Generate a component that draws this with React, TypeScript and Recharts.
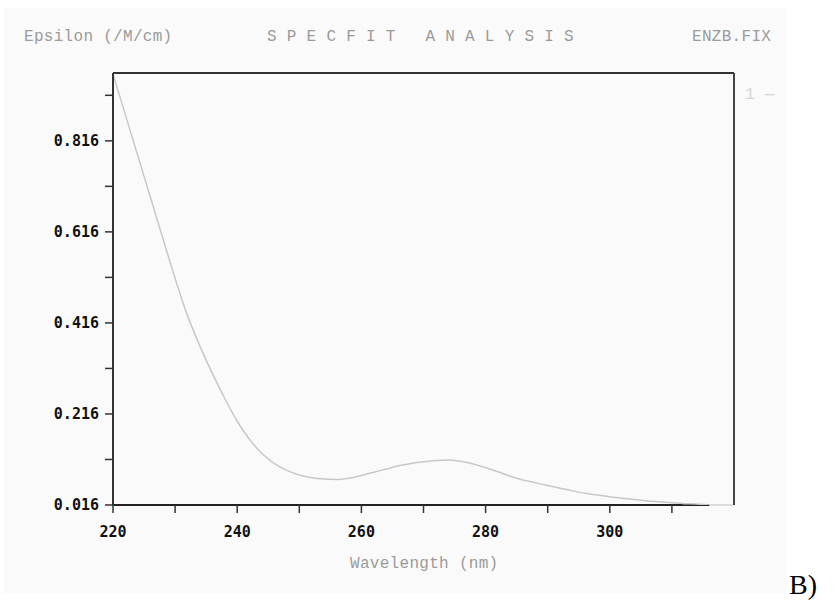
import React from 'react';
import { LineChart, Line, XAxis, YAxis, ReferenceLine } from 'recharts';

const wavelengths = [220, 222, 224, 226, 228, 230, 232, 234, 236, 238, 240, 242, 244, 246, 248, 250, 252, 254, 256, 258, 260, 262, 264, 266, 268, 270, 272, 274, 276, 278, 280, 282, 284, 286, 288, 290, 292, 294, 296, 298, 300, 302, 304, 306, 308, 310, 312, 314, 316];
const epsilon = [0.963, 0.873, 0.783, 0.693, 0.603, 0.514, 0.432, 0.365, 0.305, 0.25, 0.2, 0.16, 0.129, 0.107, 0.092, 0.082, 0.076, 0.073, 0.072, 0.075, 0.081, 0.088, 0.095, 0.102, 0.107, 0.111, 0.114, 0.115, 0.112, 0.106, 0.098, 0.089, 0.079, 0.071, 0.065, 0.059, 0.053, 0.047, 0.042, 0.038, 0.034, 0.031, 0.028, 0.025, 0.023, 0.021, 0.019, 0.018, 0.016];

const xTicks = [220, 230, 240, 250, 260, 270, 280, 290, 300, 310];
const xTickLabels = ['220', '', '240', '', '260', '', '280', '', '300', ''];
const yTicks = [0.016, 0.116, 0.216, 0.316, 0.416, 0.516, 0.616, 0.716, 0.816, 0.916];
const yTickLabels = ['0.016', '', '0.216', '', '0.416', '', '0.616', '', '0.816', ''];
const xDomain = [220, 320];
const yDomain = [0.016, 0.965];

const data = wavelengths.map((w, i) => ({ w, e: epsilon[i] }));
const xEnd = wavelengths[wavelengths.length - 1];

const mono = '"DejaVu Sans Mono", "Liberation Mono", monospace';
const titleStyle: React.CSSProperties = {
  position: 'absolute',
  fontFamily: '"Liberation Mono", monospace',
  fontSize: 16,
  lineHeight: '16px',
  letterSpacing: '0.3px',
  color: '#9a9a9a',
  whiteSpace: 'pre',
};

export default function App() {
  return (
    <div style={{ position: 'absolute', left: 0, top: 0, width: 835, height: 614, background: '#ffffff', overflow: 'hidden' }}>
      <div style={{ position: 'absolute', left: 4, top: 8, width: 783, height: 585, background: '#fafafa' }} />
      <div style={{ ...titleStyle, left: 24, top: 29 }}>Epsilon (/M/cm)</div>
      <div style={{ ...titleStyle, left: 267, top: 29 }}>S P E C F I T   A N A L Y S I S</div>
      <div style={{ ...titleStyle, left: 692, top: 29 }}>ENZB.FIX</div>
      <div style={{ ...titleStyle, left: 350, top: 556 }}>Wavelength (nm)</div>
      <div style={{ ...titleStyle, left: 745, top: 87, color: '#d4d4d4' }}>1 —</div>
      <div style={{ position: 'absolute', left: 789, top: 570, fontFamily: '"Liberation Serif", serif', fontSize: 28, lineHeight: '30px', color: '#000' }}>B)</div>
      <div style={{ position: 'absolute', left: 0, top: 0 }}>
        <LineChart width={835} height={614} data={data} margin={{ top: 73, right: 101, bottom: 79, left: 53 }}>
          <XAxis
            dataKey="w"
            type="number"
            domain={xDomain}
            ticks={xTicks}
            tickFormatter={(v: number) => xTickLabels[xTicks.indexOf(v)] ?? ''}
            axisLine={false}
            tickLine={{ stroke: '#333', strokeWidth: 1.5 }}
            tickSize={8}
            tickMargin={13}
            height={30}
            allowDataOverflow
            tick={{ fill: '#111', fontFamily: mono, fontSize: 15, fontWeight: 'bold' }}
          />
          <YAxis
            type="number"
            domain={yDomain}
            ticks={yTicks}
            tickFormatter={(v: number) => yTickLabels[yTicks.indexOf(v)] ?? ''}
            axisLine={{ stroke: '#333', strokeWidth: 2 }}
            tickLine={{ stroke: '#333', strokeWidth: 1.5 }}
            tickSize={8}
            tickMargin={6}
            width={60}
            allowDataOverflow
            tick={{ fill: '#111', fontFamily: mono, fontSize: 15, fontWeight: 'bold' }}
          />
          <ReferenceLine y={yDomain[0]} stroke="#dddddd" strokeWidth={2} />
          <ReferenceLine segment={[{ x: xDomain[0], y: yDomain[0] }, { x: xEnd, y: yDomain[0] }]} stroke="#222" strokeWidth={2} />
          <ReferenceLine y={yDomain[1]} stroke="#333" strokeWidth={2} />
          <ReferenceLine x={xDomain[1]} stroke="#444" strokeWidth={2} />
          <Line type="monotone" dataKey="e" stroke="#c8c8c8" strokeWidth={1.5} dot={false} isAnimationActive={false} />
        </LineChart>
      </div>
    </div>
  );
}
